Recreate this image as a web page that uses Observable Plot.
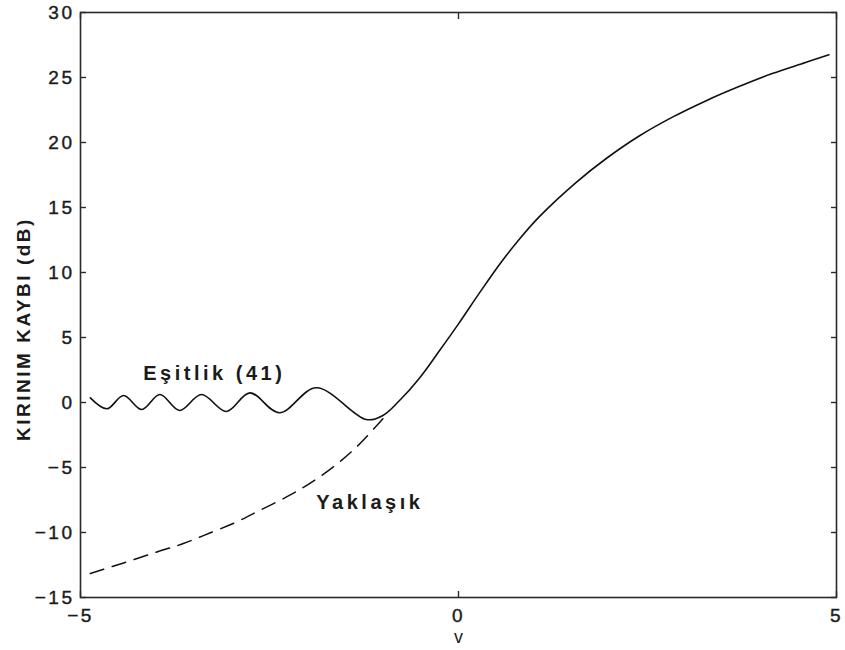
<!DOCTYPE html>
<html>
<head>
<meta charset="utf-8">
<script src="https://cdn.jsdelivr.net/npm/d3@7"></script>
<script src="https://cdn.jsdelivr.net/npm/@observablehq/plot@0.6"></script>
<style>
  body { margin: 0; background: #fff; }
  #chart svg { display: block; }
</style>
</head>
<body>
<div id="chart"></div>
<script>
// Knife-edge diffraction loss versus the Fresnel parameter v.
// Exact result (Eşitlik 41): oscillates around 0 dB for negative v, then rises.
const exactV = [-4.87, -4.65, -4.43, -4.19, -3.95, -3.69, -3.40, -3.07, -2.76, -2.37,
                -1.88, -1.22, -1.00, -0.78, -0.52, -0.25, 0.00, 0.28, 0.54, 0.81,
                1.07, 1.55, 1.95, 2.39, 2.83, 3.27, 3.71, 4.15, 4.59, 4.90];
const exactLoss = [0.36, -0.48, 0.54, -0.54, 0.61, -0.61, 0.61, -0.69, 0.74, -0.79,
                   1.13, -1.31, -1.00, 0.15, 1.85, 4.00, 6.05, 8.45, 10.6, 12.6,
                   14.3, 16.9, 18.75, 20.5, 21.95, 23.2, 24.3, 25.3, 26.15, 26.75];

// Approximate expression (Yaklaşık), drawn dashed for v below about -1.
const approxV = [-4.87, -4.43, -3.99, -3.64, -3.29, -2.94, -2.63, -2.28, -1.97, -1.66, -1.35, -1.00];
const approxLoss = [-13.16, -12.34, -11.50, -10.85, -10.04, -9.20, -8.30, -7.28, -6.24, -4.97, -3.43, -1.25];

const xTicks = [-5, 0, 5];
const yTicks = [-15, -10, -5, 0, 5, 10, 15, 20, 25, 30];

// Curve annotations
const noteText = ["Eşitlik (41)", "Yaklaşık"];
const noteV = [-4.17, -1.88];
const noteLoss = [2.19, -7.68];

const xLabel = "v";
const yLabel = "KIRINIM KAYBI (dB)";

const exact = exactV.map((v, i) => ({v, loss: exactLoss[i]}));
const approx = approxV.map((v, i) => ({v, loss: approxLoss[i]}));
const notes = noteText.map((t, i) => ({t, v: noteV[i], loss: noteLoss[i]}));

const ink = "#1b1b1b";

const chart = Plot.plot({
  width: 845,
  height: 650,
  marginLeft: 80,
  marginRight: 9,
  marginTop: 12,
  marginBottom: 53,
  style: {
    fontFamily: "'Liberation Sans', Arial, Helvetica, sans-serif",
    fontSize: "19px",
    color: ink,
    background: "#fff",
    overflow: "visible"
  },
  x: {domain: [-5, 5]},
  y: {domain: [-15, 30]},
  marks: [
    Plot.frame({stroke: "#2a2a2a", strokeWidth: 1.6}),
    // inward ticks on all four sides, labels on bottom and left only
    Plot.axisX(xTicks, {anchor: "bottom", tickSize: -6, tickPadding: 17, label: null, stroke: "#2a2a2a", strokeWidth: 1.4}),
    Plot.axisX(xTicks, {anchor: "top", tickSize: -6, tickFormat: () => "", label: null, stroke: "#2a2a2a", strokeWidth: 1.4}),
    Plot.axisY(yTicks, {anchor: "left", tickSize: -6, tickPadding: 12, label: null, stroke: "#2a2a2a", strokeWidth: 1.4}),
    Plot.axisY(yTicks, {anchor: "right", tickSize: -6, tickFormat: () => "", label: null, stroke: "#2a2a2a", strokeWidth: 1.4}),
    Plot.line(approx, {x: "v", y: "loss", curve: "catmull-rom", stroke: "#111", strokeWidth: 1.5, strokeDasharray: "14,9"}),
    Plot.line(exact, {x: "v", y: "loss", curve: "catmull-rom", stroke: "#111", strokeWidth: 1.6}),
    Plot.text(notes, {x: "v", y: "loss", text: "t", textAnchor: "start", fontWeight: "bold", fontSize: 20, fill: ink}),
    Plot.text([xLabel], {frameAnchor: "bottom", dy: 45, text: d => d, fontSize: 18, fill: ink}),
    Plot.text([yLabel], {frameAnchor: "left", dx: -57, dy: 24, rotate: -90, textAnchor: "middle", lineAnchor: "middle", text: d => d, fontWeight: "bold", fontSize: 19, fill: ink})
  ]
});

// wide-set, slightly heavy lettering
const svg = d3.select(chart);
svg.selectAll("text").each(function() {
  const t = this.textContent;
  const sel = d3.select(this);
  if (noteText.includes(t)) sel.style("letter-spacing", "3.5px");
  else if (t === yLabel) sel.style("letter-spacing", "2.5px");
  else if (t === xLabel) sel.style("letter-spacing", "0px");
  else sel.style("letter-spacing", "2.5px").style("stroke", ink).style("stroke-width", "0.4px");
});

document.getElementById("chart").appendChild(chart);
</script>
</body>
</html>
